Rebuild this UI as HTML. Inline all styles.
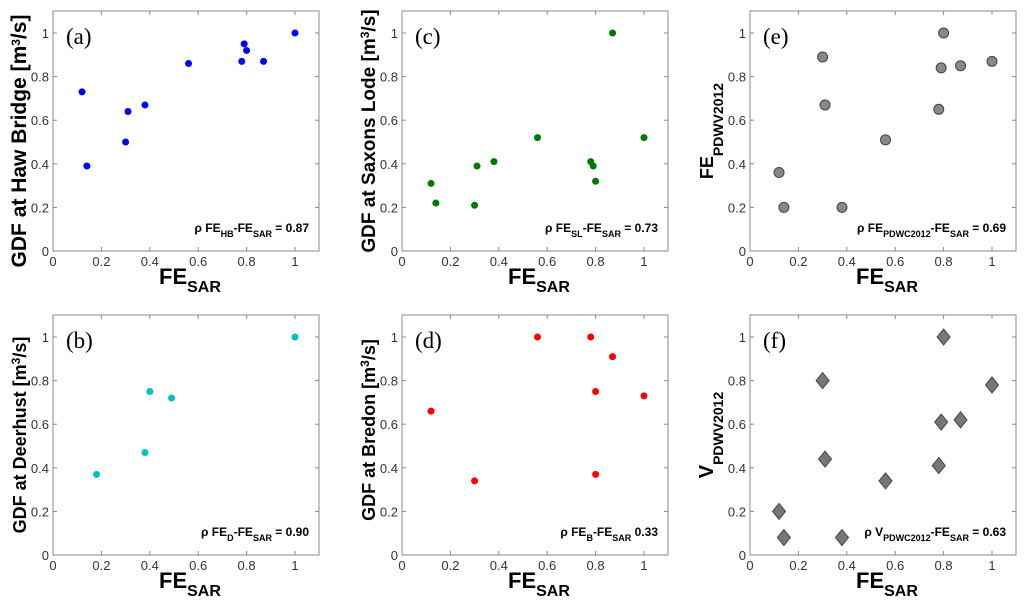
<!DOCTYPE html>
<html><head><meta charset="utf-8">
<style>
html,body{margin:0;padding:0;background:#fff;}
svg{display:block;font-family:"Liberation Sans",sans-serif;}
</style></head>
<body>
<svg id="chart" width="1024" height="606" viewBox="0 0 1024 606"></svg>
<script>
const xA = [0.12,0.14,0.30,0.31,0.38,0.56,0.78,0.79,0.80,0.87,1.0];
const yHB = [0.73,0.39,0.50,0.64,0.67,0.86,0.87,0.95,0.92,0.87,1.0];
const ySL = [0.31,0.22,0.21,0.39,0.41,0.52,0.41,0.39,0.32,1.0,0.52];
const yFE = [0.36,0.20,0.89,0.67,0.20,0.51,0.65,0.84,1.0,0.85,0.87];
const yV  = [0.20,0.08,0.80,0.44,0.08,0.34,0.41,0.61,1.0,0.62,0.78];
const xD = [0.18,0.38,0.40,0.49,1.0];
const yD = [0.37,0.47,0.75,0.72,1.0];
const xB = [0.12,0.30,0.56,0.78,0.80,0.80,0.87,1.0];
const yB = [0.66,0.34,1.0,1.0,0.75,0.37,0.91,0.73];
const ticks = [0,0.2,0.4,0.6,0.8,1];
const tickLabels = ["0","0.2","0.4","0.6","0.8","1"];

const NS="http://www.w3.org/2000/svg";
const svg=document.getElementById('chart');
function mk(tag,attrs,parent){const e=document.createElementNS(NS,tag);for(const k in attrs)e.setAttribute(k,attrs[k]);(parent||svg).appendChild(e);return e;}

const SUP='<tspan baseline-shift="6" font-size="12">3</tspan>';
const panels=[
 {id:'a',left:53,top:11,xs:xA,ys:yHB,color:'#0000ff',marker:'dot',yfs:21,yoff:27,ydy:10,ylabel:'GDF at Haw Bridge [m'+SUP+'/s]',rho:'ρ FE<tspan baseline-shift="sub" font-size="9">HB</tspan>-FE<tspan baseline-shift="sub" font-size="9">SAR</tspan> = 0.87'},
 {id:'c',left:402,top:11,xs:xA,ys:ySL,color:'#007a00',marker:'dot',yfs:19,yoff:27,ydy:0,ylabel:'GDF at Saxons Lode [m'+SUP+'/s]',rho:'ρ FE<tspan baseline-shift="sub" font-size="9">SL</tspan>-FE<tspan baseline-shift="sub" font-size="9">SAR</tspan> = 0.73'},
 {id:'e',left:750,top:11,xs:xA,ys:yFE,color:'#808080',marker:'circle',yfs:18,yoff:37,ydy:0,ylabel:'FE<tspan baseline-shift="-10" font-size="14">PDWV2012</tspan>',rho:'ρ FE<tspan baseline-shift="sub" font-size="9">PDWC2012</tspan>-FE<tspan baseline-shift="sub" font-size="9">SAR</tspan> = 0.69'},
 {id:'b',left:53,top:315,xs:xD,ys:yD,color:'#00c0c0',marker:'dot',yfs:18,yoff:27,ydy:0,ylabel:'GDF at Deerhust [m'+SUP+'/s]',rho:'ρ FE<tspan baseline-shift="sub" font-size="9">D</tspan>-FE<tspan baseline-shift="sub" font-size="9">SAR</tspan> = 0.90'},
 {id:'d',left:402,top:315,xs:xB,ys:yB,color:'#ff0000',marker:'dot',yfs:18,yoff:27,ydy:-5,ylabel:'GDF at Bredon [m'+SUP+'/s]',rho:'ρ FE<tspan baseline-shift="sub" font-size="9">B</tspan>-FE<tspan baseline-shift="sub" font-size="9">SAR</tspan> 0.33'},
 {id:'f',left:750,top:315,xs:xA,ys:yV,color:'#707070',marker:'diamond',yfs:20,yoff:37,ydy:0,ylabel:'V<tspan baseline-shift="-10" font-size="14">PDWV2012</tspan>',rho:'ρ V<tspan baseline-shift="sub" font-size="9">PDWC2012</tspan>-FE<tspan baseline-shift="sub" font-size="9">SAR</tspan> = 0.63'}
];

panels.forEach(p=>{
  const W=266,H=240,unitX=242,unitY=218;
  const bottom=p.top+H;
  const sx=v=>p.left+v*unitX;
  const sy=v=>bottom-v*unitY;
  const g=mk('g',{});
  
  
  const box=mk('rect',{x:p.left,y:p.top,width:W,height:H,fill:'none',stroke:'#888',"stroke-width":1},g);
  
  
  ticks.forEach((t,i)=>{
    mk('line',{x1:sx(t),x2:sx(t),y1:bottom,y2:bottom-4,stroke:'#888'},g);
    mk('line',{x1:sx(t),x2:sx(t),y1:p.top,y2:p.top+4,stroke:'#888'},g);
    mk('line',{x1:p.left,x2:p.left+4,y1:sy(t),y2:sy(t),stroke:'#888'},g);
    mk('line',{x1:p.left+W,x2:p.left+W-4,y1:sy(t),y2:sy(t),stroke:'#888'},g);
    const xt=mk('text',{x:sx(t),y:bottom+15,"text-anchor":"middle","font-size":13,fill:'#333'},g);
    xt.textContent=tickLabels[i];
    
    
    const yt=mk('text',{x:p.left-4,y:sy(t)+5,"text-anchor":"end","font-size":13,fill:'#333'},g);
    yt.textContent=tickLabels[i];
    
    
  });
  const xl=mk('text',{x:p.left+106,y:bottom+33,"font-size":22,"font-weight":"bold",fill:'#000'},g);
  xl.innerHTML='FE<tspan baseline-shift="-8" font-size="16">SAR</tspan>';
  
  
  const ycx=p.left-p.yoff, ycy=p.top+H/2+p.ydy;
  const yl=mk('text',{x:ycx,y:ycy,"text-anchor":"middle","font-size":p.yfs,"font-weight":"bold",fill:'#000',transform:`rotate(-90 ${ycx} ${ycy})`},g);
  yl.innerHTML=p.ylabel;
  
  
  const pl=mk('text',{x:p.left+13,y:p.top+33,"font-size":23,"font-family":"Liberation Serif, serif",fill:'#000'},g);
  pl.textContent='('+p.id+')';
  
  
  const rt=mk('text',{x:p.left+256,y:bottom-19,"text-anchor":"end","font-size":12,"font-weight":"bold",fill:'#000'},g);
  rt.innerHTML=p.rho;
  
  
  p.xs.forEach((xv,i)=>{
    const cx=sx(xv), cy=sy(p.ys[i]);
    let m;
    if(p.marker==='dot'){
      m=mk('circle',{cx:cx,cy:cy,r:3.5,fill:p.color},g);
    }else if(p.marker==='circle'){
      m=mk('circle',{cx:cx,cy:cy,r:5,fill:'#888',stroke:'#444',"stroke-width":1},g);
    }else{
      m=mk('polygon',{points:`${cx},${cy-8} ${cx+6.5},${cy} ${cx},${cy+8} ${cx-6.5},${cy}`,fill:'#777',stroke:'#444',"stroke-width":1},g);
    }
    
    
  });
});
</script>
</body></html>
